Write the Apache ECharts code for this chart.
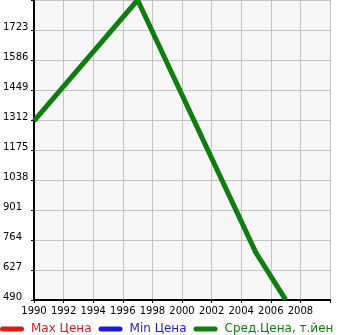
<!DOCTYPE html>
<html><head><meta charset="utf-8">
<script src="https://cdn.jsdelivr.net/npm/echarts@6/dist/echarts.min.js"></script>
<style>html,body{margin:0;padding:0;background:#fff}#c{width:345px;height:335px}</style>
</head><body><div id="c"></div>
<script>
const seriesNames = ['Max Цена', 'Min Цена', 'Сред.Цена, т.йен'];
const seriesColors = ['#dd1b1b', '#1b1bdd', '#0f7d0f'];
const years = [1990, 1997, 2005, 2007];
const maxValues = [];
const minValues = [];
const avgValues = [1308, 1860, 705, 492];
const yTicks = [490, 627, 764, 901, 1038, 1175, 1312, 1449, 1586, 1723, 1860];
const xTicks = [1990, 1992, 1994, 1996, 1998, 2000, 2002, 2004, 2006, 2008, 2010];

const chart = echarts.init(document.getElementById('c'), null, {renderer: 'canvas'});
const font = 'DejaVu Sans';
const capsule = 'path://M2.5,0 L21.5,0 A2.5,2.5 0 0 1 21.5,5 L2.5,5 A2.5,2.5 0 0 1 2.5,0 Z';
chart.setOption({
  animation: false,
  grid: {left: 31, right: 15, top: 0, bottom: 35, show: true, backgroundColor: '#f7f7f7', borderWidth: 0},
  legend: {
    left: -5, bottom: -5, itemWidth: 24, itemHeight: 5, itemGap: 7,
    icon: capsule,
    data: seriesNames.map((n, i) => ({name: n, textStyle: {color: seriesColors[i]}})),
    textStyle: {fontFamily: font, fontSize: 12, padding: [0, 0, 0, 2]}
  },
  xAxis: {
    type: 'value', min: xTicks[0], max: xTicks[xTicks.length - 1], interval: 2,
    axisLine: {lineStyle: {color: '#000', width: 2}},
    axisTick: {show: true, length: 3, lineStyle: {color: '#000'}},
    splitLine: {show: true, lineStyle: {color: '#c4c4c4', width: 1}},
    axisLabel: {color: '#000', fontFamily: font, fontSize: 10, margin: 6,
      formatter: v => (v === 2010 ? '' : String(v))}
  },
  yAxis: {
    type: 'value', min: yTicks[0], max: yTicks[yTicks.length - 1], interval: 137,
    axisLine: {show: true, lineStyle: {color: '#000', width: 2}},
    axisTick: {show: true, length: 3, lineStyle: {color: '#000'}},
    splitLine: {show: true, lineStyle: {color: '#c4c4c4', width: 1}},
    axisLabel: {color: '#000', fontFamily: font, fontSize: 10, align: 'left', margin: 31,
      verticalAlign: 'bottom', lineHeight: 5,
      formatter: v => (v === 1860 ? '' : String(v))}
  },
  series: [
    {name: seriesNames[0], type: 'line', data: maxValues, color: seriesColors[0], symbol: 'none', lineStyle: {width: 5}},
    {name: seriesNames[1], type: 'line', data: minValues, color: seriesColors[1], symbol: 'none', lineStyle: {width: 5}},
    {name: seriesNames[2], type: 'line', data: years.map((y, i) => [y, avgValues[i]]), color: seriesColors[2],
      symbol: 'none', lineStyle: {width: 5}}
  ]
});
</script></body></html>
